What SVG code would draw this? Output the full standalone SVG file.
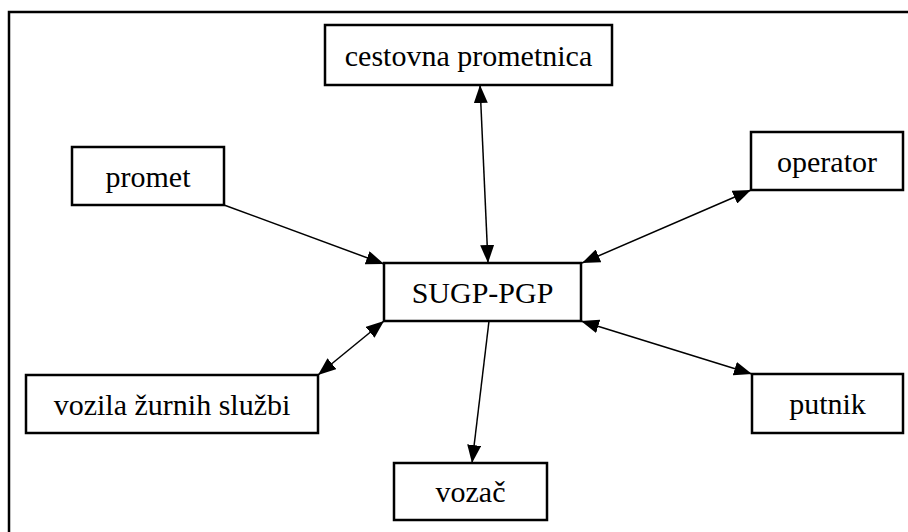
<svg xmlns="http://www.w3.org/2000/svg" width="908" height="532" viewBox="0 0 908 532">
<defs>
<style>
.box{fill:#fff;stroke:#000;stroke-width:2.5}
.lbl{font-family:'Liberation Serif',serif;font-size:30px;fill:#000;text-anchor:middle}
.c{stroke:#000;stroke-width:1.5;fill:none}
</style>
<marker id="ae" markerWidth="18" markerHeight="14" refX="18" refY="7" orient="auto" markerUnits="userSpaceOnUse">
<path d="M0,0 L18,7 L0,14 Z" fill="#000"/>
</marker>
<marker id="as" markerWidth="18" markerHeight="14" refX="0" refY="7" orient="auto" markerUnits="userSpaceOnUse">
<path d="M18,0 L0,7 L18,14 Z" fill="#000"/>
</marker>
</defs>
<rect width="908" height="532" fill="#fff"/>
<rect x="9" y="12" width="920" height="540" fill="none" stroke="#000" stroke-width="2.5"/>
<g id="connectors">
<line class="c" x1="480" y1="85" x2="488" y2="263" marker-start="url(#as)" marker-end="url(#ae)"/>
<line class="c" x1="224" y1="205" x2="384" y2="264" marker-end="url(#ae)"/>
<line class="c" x1="751" y1="190" x2="582" y2="263" marker-start="url(#as)" marker-end="url(#ae)"/>
<line class="c" x1="318" y1="375" x2="384" y2="321" marker-start="url(#as)" marker-end="url(#ae)"/>
<line class="c" x1="581" y1="321" x2="752" y2="374" marker-start="url(#as)" marker-end="url(#ae)"/>
<line class="c" x1="489" y1="321" x2="472" y2="463" marker-end="url(#ae)"/>
</g>
<g id="cestovna"><rect class="box" x="325" y="25" width="287" height="60"/><text class="lbl" font-family="Liberation Serif, serif" x="468.5" y="65.5">cestovna prometnica</text></g>
<g id="promet"><rect class="box" x="72" y="147" width="152" height="58"/><text class="lbl" font-family="Liberation Serif, serif" x="148" y="186.5">promet</text></g>
<g id="operator"><rect class="box" x="751" y="132" width="152" height="58"/><text class="lbl" font-family="Liberation Serif, serif" x="827" y="171.5">operator</text></g>
<g id="sugp"><rect class="box" x="384" y="263" width="197" height="58"/><text class="lbl" font-family="Liberation Serif, serif" x="482.5" y="302.5">SUGP-PGP</text></g>
<g id="vozila"><rect class="box" x="26" y="375" width="292" height="58"/><text class="lbl" font-family="Liberation Serif, serif" x="172" y="414.5">vozila žurnih službi</text></g>
<g id="putnik"><rect class="box" x="752" y="374" width="151" height="59"/><text class="lbl" font-family="Liberation Serif, serif" x="827.5" y="414">putnik</text></g>
<g id="vozac"><rect class="box" x="394" y="463" width="153" height="57"/><text class="lbl" font-family="Liberation Serif, serif" x="470.5" y="502">vozač</text></g>
</svg>
